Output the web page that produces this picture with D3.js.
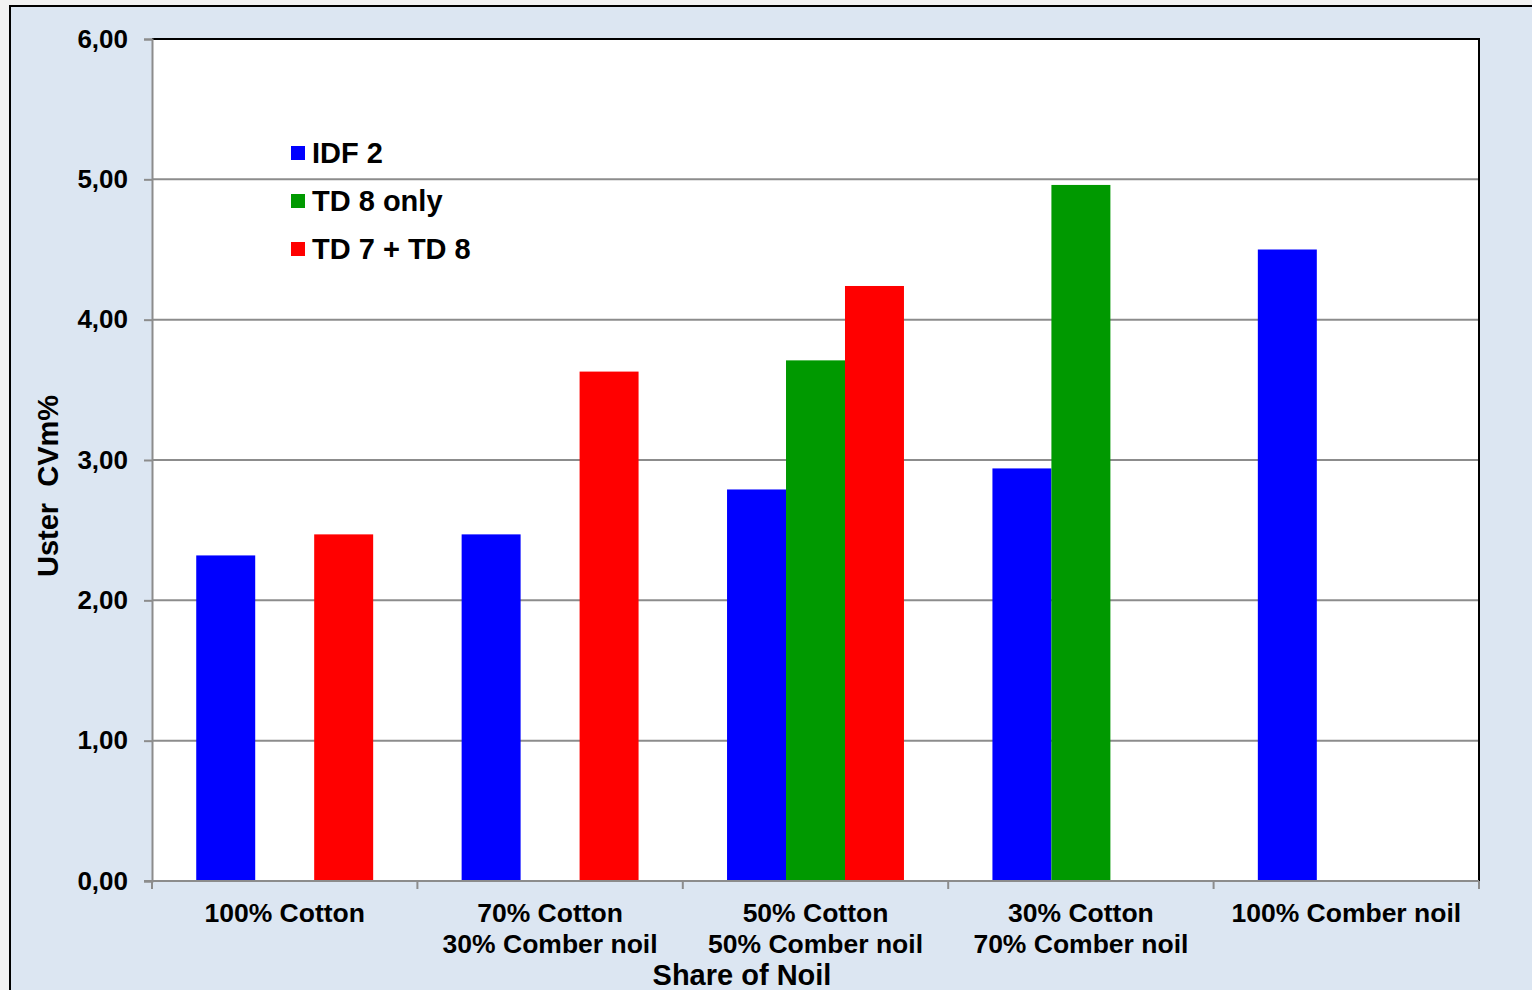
<!DOCTYPE html>
<html>
<head>
<meta charset="utf-8">
<script src="https://cdn.jsdelivr.net/npm/d3@7"></script>
<style>
  html, body { margin: 0; padding: 0; background: #f2f2f2; }
  svg { display: block; font-family: "Liberation Sans", Arial, sans-serif; }
</style>
</head>
<body>
<svg id="chart" width="1532" height="990"></svg>
<script>
// Categories (mix of cotton and comber noil), one line per array entry
const categories = [
  ["100% Cotton"],
  ["70% Cotton", "30% Comber noil"],
  ["50% Cotton", "50% Comber noil"],
  ["30% Cotton", "70% Comber noil"],
  ["100% Comber noil"]
];
const seriesNames = ["IDF 2", "TD 8 only", "TD 7 + TD 8"];
const seriesColors = ["#0000ff", "#009900", "#ff0000"];
// Uster CVm% per category; null = not measured
const idf2   = [2.32, 2.47, 2.79, 2.94, 4.50];
const td8    = [null, null, 3.71, 4.96, null];
const td7td8 = [2.47, 3.63, 4.24, null, null];
const yTicks = [0, 1, 2, 3, 4, 5, 6];

const seriesValues = [idf2, td8, td7td8];

const svg = d3.select("#chart");
const W = 1532, H = 990;
const plot = { left: 152, top: 39, right: 1479, bottom: 881 };

// Chart area background with border
svg.append("rect")
  .attr("x", 10).attr("y", 6)
  .attr("width", W).attr("height", H)
  .attr("fill", "#dce6f2")
  .attr("stroke", "#000").attr("stroke-width", 2);

// Plot area
svg.append("rect")
  .attr("x", plot.left).attr("y", plot.top)
  .attr("width", plot.right - plot.left).attr("height", plot.bottom - plot.top)
  .attr("fill", "#fff");

const catKeys = categories.map(c => c.join(" "));
const x0 = d3.scaleBand().domain(catKeys).range([plot.left, plot.right]).padding(0);
const x1 = d3.scaleBand().domain(seriesNames).range([0, x0.bandwidth()])
  .paddingInner(0).paddingOuter(0.75);
const y = d3.scaleLinear().domain([0, 6]).range([plot.bottom, plot.top]);

const fmt = d3.formatLocale({ decimal: ",", thousands: ".", grouping: [3], currency: ["", ""] }).format(".2f");

// Gridlines
svg.append("g")
  .selectAll("line")
  .data(yTicks.filter(t => t > 0 && t < 6))
  .join("line")
  .attr("x1", plot.left).attr("x2", plot.right)
  .attr("y1", d => y(d)).attr("y2", d => y(d))
  .attr("stroke", "#8c8c8c").attr("stroke-width", 2);

// Bars
const rows = [];
catKeys.forEach((c, i) => {
  seriesNames.forEach((s, j) => {
    const v = seriesValues[j][i];
    if (v != null) rows.push({ cat: c, series: s, value: v, color: seriesColors[j] });
  });
});
svg.append("g")
  .selectAll("rect")
  .data(rows)
  .join("rect")
  .attr("x", d => x0(d.cat) + x1(d.series))
  .attr("width", x1.bandwidth())
  .attr("y", d => y(d.value))
  .attr("height", d => y(0) - y(d.value))
  .attr("fill", d => d.color);

// Plot area top and right border
svg.append("path")
  .attr("d", `M${plot.left},${plot.top}H${plot.right}V${plot.bottom}`)
  .attr("fill", "none").attr("stroke", "#000").attr("stroke-width", 2);

// Y axis
const yAxis = svg.append("g")
  .attr("transform", `translate(${plot.left},0)`)
  .call(d3.axisLeft(y).tickValues(yTicks).tickFormat(fmt).tickSize(8).tickPadding(16));
yAxis.select(".domain").attr("stroke", "#8c8c8c").attr("stroke-width", 2);
yAxis.selectAll(".tick line").attr("stroke", "#8c8c8c").attr("stroke-width", 2);
yAxis.selectAll(".tick text")
  .attr("font-size", 26).attr("font-weight", "bold").attr("fill", "#000")
  .attr("font-family", "Liberation Sans, Arial, sans-serif");

// X axis: boundary ticks between categories
const xAxis = svg.append("g");
xAxis.append("line")
  .attr("x1", plot.left - 8).attr("x2", plot.right)
  .attr("y1", plot.bottom).attr("y2", plot.bottom)
  .attr("stroke", "#8c8c8c").attr("stroke-width", 2);
const bounds = catKeys.map(c => x0(c)).concat([plot.right]);
xAxis.selectAll("line.b")
  .data(bounds)
  .join("line")
  .attr("class", "b")
  .attr("x1", d => d).attr("x2", d => d)
  .attr("y1", plot.bottom).attr("y2", plot.bottom + 8)
  .attr("stroke", "#8c8c8c").attr("stroke-width", 2);

const labels = svg.append("g")
  .selectAll("text")
  .data(categories)
  .join("text")
  .attr("x", (d, i) => x0(catKeys[i]) + x0.bandwidth() / 2)
  .attr("y", 922)
  .attr("text-anchor", "middle")
  .attr("font-size", 26.5).attr("font-weight", "bold");
labels.selectAll("tspan")
  .data(d => d)
  .join("tspan")
  .attr("x", function () { return this.parentNode.getAttribute("x"); })
  .attr("dy", (d, i) => i === 0 ? 0 : 31)
  .text(d => d);

// Axis titles
svg.append("text")
  .attr("x", 742).attr("y", 985)
  .attr("text-anchor", "middle")
  .attr("font-size", 29).attr("font-weight", "bold")
  .text("Share of Noil");

svg.append("text")
  .attr("transform", "translate(58,486) rotate(-90)")
  .attr("text-anchor", "middle")
  .attr("font-size", 29).attr("font-weight", "bold")
  .style("white-space", "pre")
  .text("Uster  CVm%");

// Legend
const legend = svg.append("g")
  .selectAll("g")
  .data(seriesNames)
  .join("g")
  .attr("transform", (d, i) => `translate(291,${153 + i * 48})`);
legend.append("rect")
  .attr("x", 0).attr("y", -7).attr("width", 14).attr("height", 14)
  .attr("fill", (d, i) => seriesColors[i]);
legend.append("text")
  .attr("x", 21).attr("y", 10)
  .attr("font-size", 29).attr("font-weight", "bold")
  .text(d => d);
</script>
</body>
</html>
